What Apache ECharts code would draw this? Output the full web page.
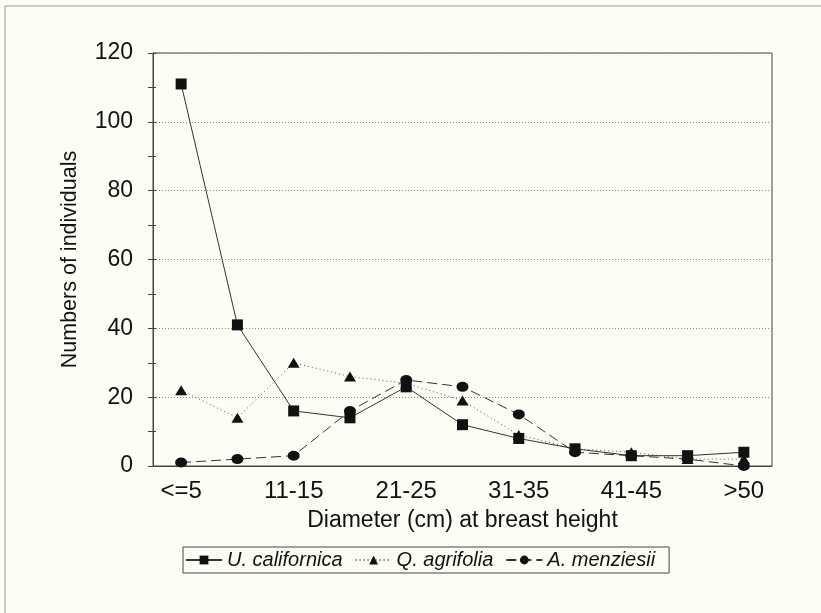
<!DOCTYPE html>
<html>
<head>
<meta charset="utf-8">
<script src="https://cdn.jsdelivr.net/npm/echarts@6/dist/echarts.min.js"></script>
<style>
  html, body { margin: 0; padding: 0; background: #fdfdf5; }
  #chart { width: 821px; height: 613px; }
</style>
</head>
<body>
<div id="chart"></div>
<script>
const categories = ['<=5', '6-10', '11-15', '16-20', '21-25', '26-30', '31-35', '36-40', '41-45', '46-50', '>50']
const uCalifornica = [111, 41, 16, 14, 23, 12, 8, 5, 3, 3, 4]
const qAgrifolia = [22, 14, 30, 26, 24, 19, 9, 5, 4, 2, 2]
const aMenziesii = [1, 2, 3, 16, 25, 23, 15, 4, 3, 2, 0]
const seriesNames = ['U. californica', 'Q. agrifolia', 'A. menziesii']

const font = "'Liberation Sans', Arial, sans-serif"
const ink = '#111'
const lineInk = '#333'

const chart = echarts.init(document.getElementById('chart'))

// 坐标轴刻度穿过轴线：另加一条只画朝内刻度的轴
const tickOnly = {
  axisLine: { show: false },
  axisLabel: { show: false },
  splitLine: { show: false },
}

chart.setOption({
  backgroundColor: '#fdfdf5',
  animation: false,
  textStyle: { fontFamily: font, color: ink },
  graphic: [{
    type: 'rect',
    shape: { x: 5, y: 6, width: 840, height: 640 },
    style: { fill: 'none', stroke: '#9a9a9a', lineWidth: 1 },
    silent: true,
  }],
  grid: {
    left: 153, right: 49, top: 53, bottom: 147,
    show: true, borderColor: '#444', borderWidth: 1,
  },
  legend: {
    data: seriesNames,
    left: 183, top: 547,
    padding: [3, 14, 3, 2],
    borderColor: '#444', borderWidth: 1,
    itemWidth: 36, itemHeight: 11, itemGap: 12,
    textStyle: { fontFamily: font, fontSize: 20, fontStyle: 'italic', color: ink },
  },
  xAxis: [{
    type: 'category',
    data: categories,
    boundaryGap: true,
    name: 'Diameter (cm) at breast height',
    nameLocation: 'middle',
    nameGap: 43,
    nameTextStyle: { fontFamily: font, fontSize: 23, color: ink },
    axisLine: { lineStyle: { color: '#444', width: 1 } },
    axisTick: { alignWithLabel: true, interval: 0, length: 7, lineStyle: { color: '#444' } },
    axisLabel: { interval: 1, margin: 13, fontFamily: font, fontSize: 24, color: ink },
  }, Object.assign({
    type: 'category',
    data: categories,
    position: 'bottom',
    axisTick: { alignWithLabel: true, interval: 0, inside: true, length: 7, lineStyle: { color: '#444' } },
  }, tickOnly)],
  yAxis: [{
    type: 'value',
    min: 0, max: 120, interval: 20,
    name: 'Numbers of individuals',
    nameLocation: 'middle',
    nameGap: 72,
    nameTextStyle: { fontFamily: font, fontSize: 21.5, color: ink },
    axisLine: { show: true, lineStyle: { color: '#444', width: 1 } },
    axisTick: { show: true, length: 5, lineStyle: { color: '#444' } },
    minorTick: { show: true, splitNumber: 2, length: 5, lineStyle: { color: '#444' } },
    axisLabel: { margin: 20, fontFamily: font, fontSize: 23, color: ink },
    splitLine: { show: true, lineStyle: { color: '#888', type: [1, 2], width: 1 } },
  }, Object.assign({
    type: 'value',
    min: 0, max: 120, interval: 20,
    position: 'left',
    axisTick: { show: true, inside: true, length: 3, lineStyle: { color: '#444' } },
    minorTick: { show: true, splitNumber: 2, length: 3, lineStyle: { color: '#444' } },
  }, tickOnly)],
  series: [{
    name: seriesNames[0],
    type: 'line',
    data: uCalifornica,
    symbol: 'rect',
    symbolSize: 11,
    itemStyle: { color: ink },
    lineStyle: { color: lineInk, width: 1, type: 'solid' },
    z: 3,
  }, {
    name: seriesNames[1],
    type: 'line',
    data: qAgrifolia,
    symbol: 'triangle',
    symbolSize: [12, 10],
    itemStyle: { color: ink },
    lineStyle: { color: '#555', width: 1, type: [1, 3] },
    z: 2,
  }, {
    name: seriesNames[2],
    type: 'line',
    data: aMenziesii,
    symbol: 'circle',
    symbolSize: [12, 10],
    itemStyle: { color: ink },
    lineStyle: { color: lineInk, width: 1, type: [10, 5] },
    z: 4,
  }],
})
</script>
</body>
</html>
